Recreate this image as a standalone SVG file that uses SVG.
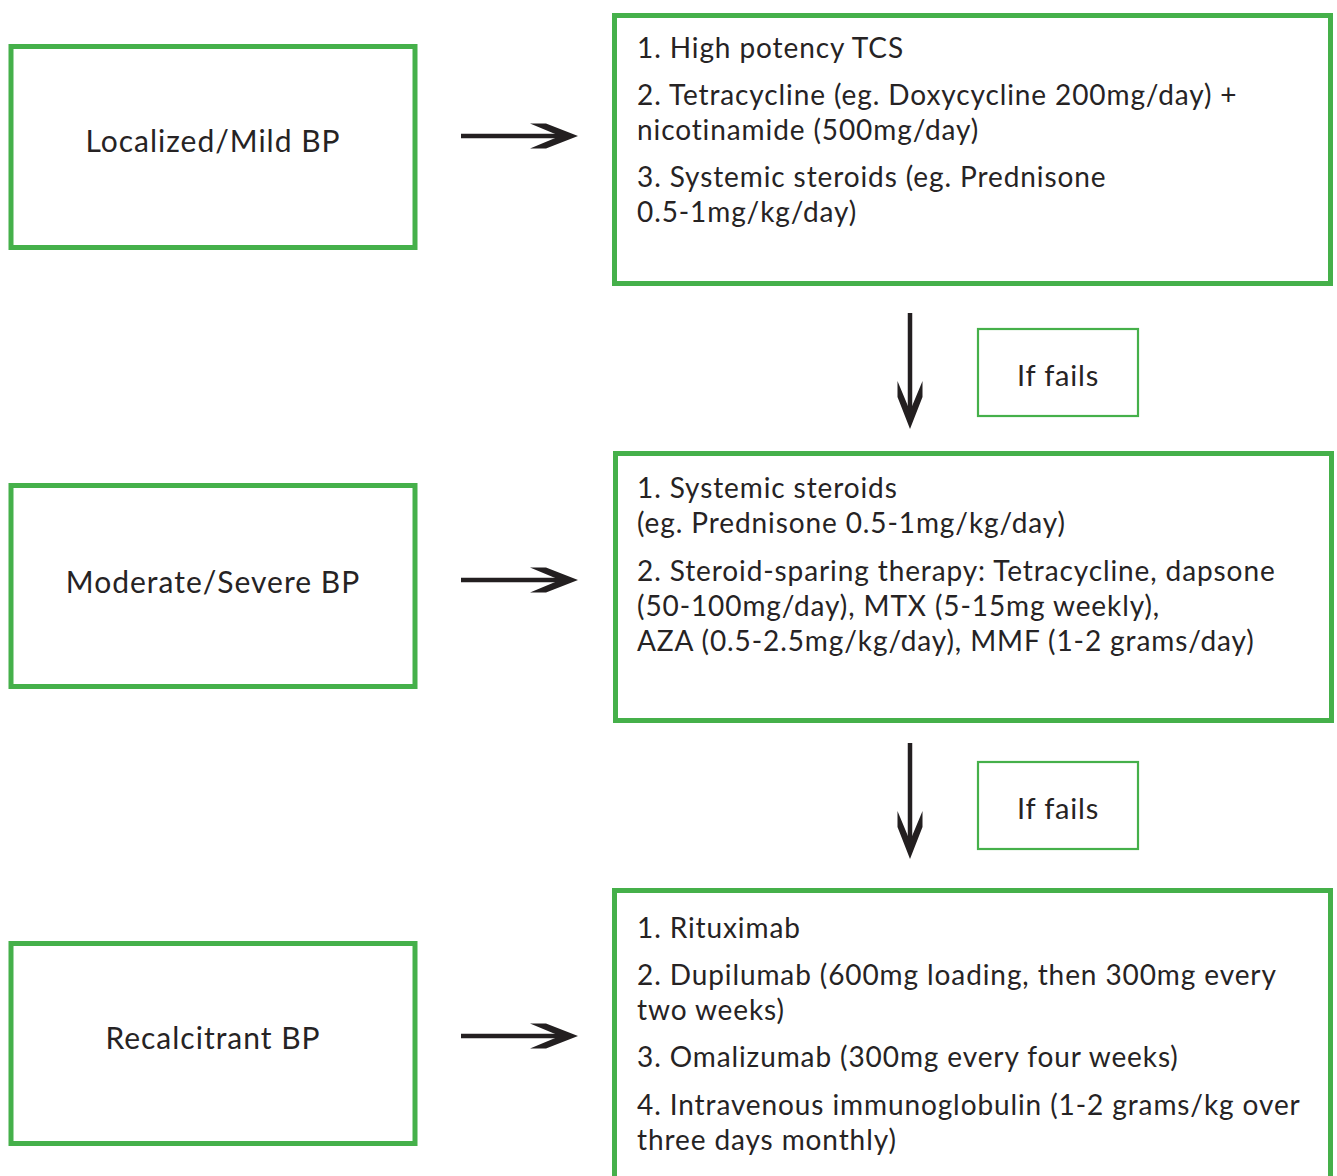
<svg xmlns="http://www.w3.org/2000/svg" xmlns:xlink="http://www.w3.org/1999/xlink" width="1337" height="1176" viewBox="0 0 1337 1176">
<style>
.box{fill:#fff;stroke:#45b04a;stroke-width:5}
.tag{fill:#fff;stroke:#45b04a;stroke-width:2.2}
text{font-family:Lato,"Noto Sans",sans-serif;fill:#262324}
.lt{font-size:30px;text-anchor:middle;letter-spacing:1px}
.rt{font-size:28px;letter-spacing:0.9px}
.ft{font-size:29px;text-anchor:middle;letter-spacing:0.8px}
.ln{stroke:#231f20;stroke-width:4.5;fill:none}
.ah{fill:#231f20}
</style>
<defs>
<path id="head" d="M-48,-12.5 L-32,-12.5 L0,0 L-32,12.5 L-48,12.5 L-18,0 Z"/>
</defs>
<rect width="1337" height="1176" fill="#fff"/>
<g id="connectors">
<line class="ln" x1="461" y1="136" x2="560" y2="136"/>
<use xlink:href="#head" class="ah" transform="translate(578,136)"/>
<line class="ln" x1="461" y1="580" x2="560" y2="580"/>
<use xlink:href="#head" class="ah" transform="translate(578,580)"/>
<line class="ln" x1="461" y1="1036" x2="560" y2="1036"/>
<use xlink:href="#head" class="ah" transform="translate(578,1036)"/>
<line class="ln" x1="910" y1="313" x2="910" y2="412"/>
<use xlink:href="#head" class="ah" transform="translate(910,429) rotate(90)"/>
<line class="ln" x1="910" y1="743" x2="910" y2="842"/>
<use xlink:href="#head" class="ah" transform="translate(910,859) rotate(90)"/>
</g>
<g id="mild">
<rect class="box" x="11" y="46.5" width="404" height="201"/>
<text class="lt" x="213" y="152">Localized/Mild BP</text>
</g>
<g id="mild-tx">
<rect class="box" x="614.5" y="15.5" width="716" height="268"/>
<text class="rt" x="637" y="58">1. High potency TCS</text>
<text class="rt" x="637" y="105">2. Tetracycline (eg. Doxycycline 200mg/day) +</text>
<text class="rt" x="637" y="140">nicotinamide (500mg/day)</text>
<text class="rt" x="637" y="187">3. Systemic steroids (eg. Prednisone</text>
<text class="rt" x="637" y="222">0.5-1mg/kg/day)</text>
</g>
<g id="fails1">
<rect class="tag" x="978" y="329" width="160" height="87"/>
<text class="ft" x="1058" y="386">If fails</text>
</g>
<g id="moderate">
<rect class="box" x="11" y="485.5" width="404" height="201"/>
<text class="lt" x="213" y="593">Moderate/Severe BP</text>
</g>
<g id="moderate-tx">
<rect class="box" x="615.5" y="453.5" width="716" height="267"/>
<text class="rt" x="637" y="498">1. Systemic steroids</text>
<text class="rt" x="637" y="533">(eg. Prednisone 0.5-1mg/kg/day)</text>
<text class="rt" x="637" y="581">2. Steroid-sparing therapy: Tetracycline, dapsone</text>
<text class="rt" x="637" y="616">(50-100mg/day), MTX (5-15mg weekly),</text>
<text class="rt" x="637" y="651">AZA (0.5-2.5mg/kg/day), MMF (1-2 grams/day)</text>
</g>
<g id="fails2">
<rect class="tag" x="978" y="762" width="160" height="87"/>
<text class="ft" x="1058" y="819">If fails</text>
</g>
<g id="recalcitrant">
<rect class="box" x="11" y="943.5" width="404" height="200"/>
<text class="lt" x="213" y="1049">Recalcitrant BP</text>
</g>
<g id="recalcitrant-tx">
<rect class="box" x="614.5" y="890.5" width="716" height="300"/>
<text class="rt" x="637" y="938">1. Rituximab</text>
<text class="rt" x="637" y="985">2. Dupilumab (600mg loading, then 300mg every</text>
<text class="rt" x="637" y="1020">two weeks)</text>
<text class="rt" x="637" y="1067">3. Omalizumab (300mg every four weeks)</text>
<text class="rt" x="637" y="1115">4. Intravenous immunoglobulin (1-2 grams/kg over</text>
<text class="rt" x="637" y="1150">three days monthly)</text>
</g>
</svg>
